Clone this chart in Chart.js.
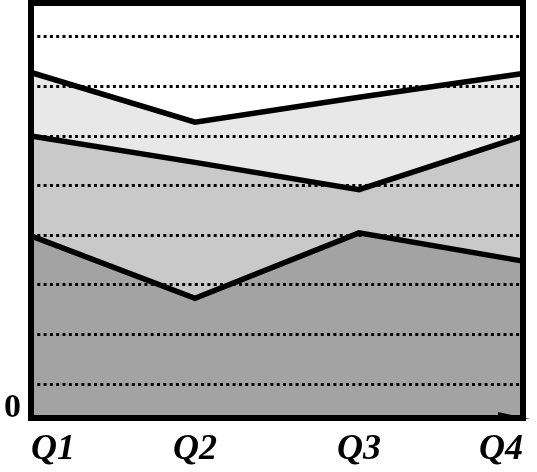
<!DOCTYPE html>
<html>
<head>
<meta charset="utf-8">
<script src="https://cdn.jsdelivr.net/npm/chart.js@4"></script>
<style>
  html, body { margin: 0; padding: 0; background: #fff; }
  #wrap { width: 537px; height: 472px; }
</style>
</head>
<body>
<div id="wrap"><canvas id="areaChart"></canvas></div>
<script>
// categories
const quarters = ['Q1', 'Q2', 'Q3', 'Q4'];
// stacked series values (bottom to top), one grid step = 1 unit
const seriesBottom = [3.67, 2.41, 3.73, 3.16];
const seriesMiddle = [2.01, 2.74, 0.87, 2.52];
const seriesTop = [1.28, 0.81, 1.86, 1.26];
// y ticks: "0" at the base, dotted grid lines above it
const yTickValues = [0, 0.68, 1.68, 2.68, 3.68, 4.68, 5.68, 6.68, 7.68];
const yMax = 8.36;

// thick frame round the plot area + small arrow head at bottom right
const frame = {
    id: 'frame',
    afterDraw(chart) {
        const { ctx, chartArea: a } = chart;
        ctx.save();
        ctx.strokeStyle = '#000';
        ctx.lineWidth = 6;
        ctx.strokeRect(a.left, a.top, a.right - a.left, a.bottom - a.top);
        ctx.fillStyle = '#000';
        ctx.beginPath();
        ctx.moveTo(a.right - 25, a.bottom - 6);
        ctx.lineTo(a.right + 7, a.bottom + 1);
        ctx.lineTo(a.right - 25, a.bottom + 1);
        ctx.closePath();
        ctx.fill();
        ctx.restore();
    }
};

const mk = (data, color, fill) => ({
    data: data,
    backgroundColor: color,
    borderColor: '#000',
    borderWidth: 5.5,
    pointRadius: 0,
    tension: 0,
    fill: fill
});

new Chart(document.getElementById('areaChart'), {
    type: 'line',
    data: {
        labels: quarters,
        datasets: [
            mk(seriesBottom, '#a3a3a3', 'origin'),
            mk(seriesMiddle, '#c9c9c9', '-1'),
            mk(seriesTop, '#e8e8e8', '-1')
        ]
    },
    options: {
        responsive: true,
        maintainAspectRatio: false,
        animation: false,
        layout: { padding: { top: 3, right: 14, left: 0, bottom: 0 } },
        plugins: { legend: { display: false }, tooltip: { enabled: false } },
        scales: {
            x: {
                offset: false,
                grid: { display: false, drawTicks: false },
                border: { display: false },
                ticks: {
                    align: 'inner',
                    padding: 10,
                    color: '#000',
                    font: { family: 'Liberation Serif', size: 36, style: 'italic', weight: 'bold' }
                },
                afterFit: s => { s.height = 54; s.paddingLeft = 0; s.paddingRight = 0; }
            },
            y: {
                stacked: true,
                min: 0,
                max: yMax,
                afterBuildTicks: s => { s.ticks = yTickValues.map(v => ({ value: v })); },
                grid: {
                    z: 1,
                    drawTicks: false,
                    color: c => (c.tick && c.tick.value === 0) ? 'rgba(0,0,0,0)' : '#000',
                    lineWidth: 3
                },
                border: { display: false, dash: [3, 3.3] },
                ticks: {
                    padding: 10,
                    labelOffset: -10,
                    color: '#000',
                    font: { family: 'Liberation Serif', size: 34, weight: 'bold' },
                    callback: v => v === 0 ? '0' : ''
                },
                afterFit: s => { s.width = 31; s.paddingTop = 0; s.paddingBottom = 0; }
            }
        }
    },
    plugins: [frame]
});
</script>
</body>
</html>
